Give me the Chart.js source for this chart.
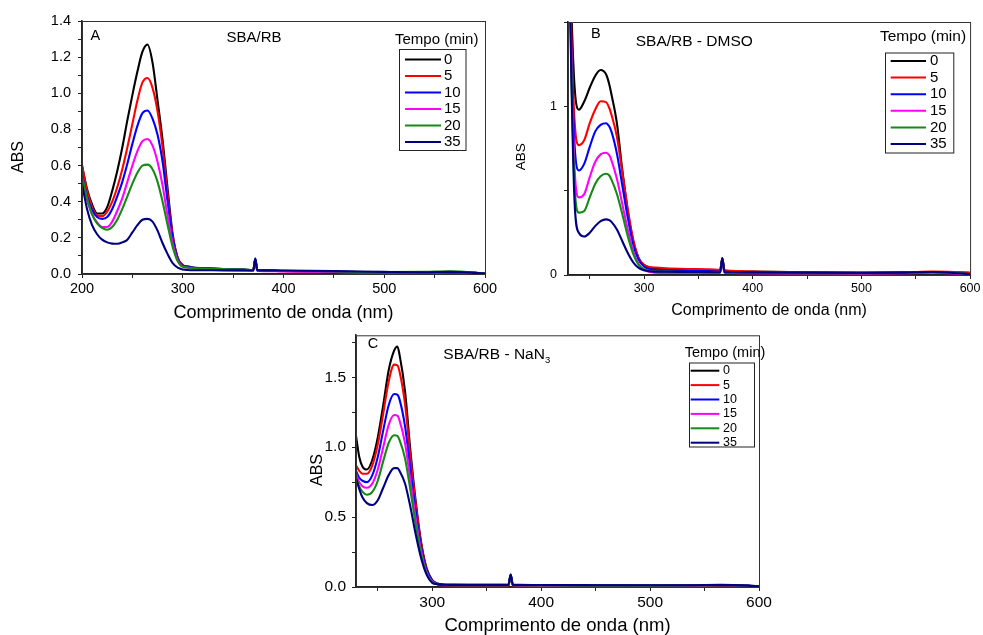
<!DOCTYPE html>
<html>
<head>
<meta charset="utf-8">
<script src="https://cdn.jsdelivr.net/npm/chart.js@4.4.1/dist/chart.umd.min.js"></script>
<style>
  body { margin: 0; background: #fff; }
  canvas { position: absolute; }
</style>
</head>
<body>
<canvas id="chartA" width="500" height="330" style="left:0;top:0"></canvas>
<canvas id="chartB" width="493" height="330" style="left:490px;top:0"></canvas>
<canvas id="chartC" width="490" height="315" style="left:290px;top:320px"></canvas>
<script>
const FONT = '"Liberation Sans", Arial, sans-serif'

// tempo de irradiação (min) e cor de cada curva
let tempos = [0, 5, 10, 15, 20, 35]
let cores = ['#000000', '#ff0000', '#0000ff', '#ff00ff', '#168a16', '#000080']

// A - SBA/RB
let nmA = [200, 205, 210, 215, 220, 225, 230, 235, 240, 245, 250, 255, 260, 265, 270, 275, 280, 285, 290, 295, 300,
	305, 310, 320, 340, 360, 370, 372, 374, 380, 400, 450, 500, 540, 565, 590, 600]
let absA = [
	[0.60, 0.47, 0.385, 0.335, 0.335, 0.37, 0.46, 0.57, 0.70, 0.85, 0.99, 1.12, 1.23, 1.27, 1.17, 0.96, 0.74, 0.47, 0.22, 0.09, 0.05,
		0.042, 0.036, 0.033, 0.028, 0.024, 0.022, 0.08, 0.022, 0.02, 0.017, 0.012, 0.009, 0.008, 0.01, 0.006, 0.002],
	[0.60, 0.46, 0.37, 0.325, 0.32, 0.345, 0.40, 0.48, 0.58, 0.70, 0.83, 0.96, 1.06, 1.085, 1.03, 0.90, 0.70, 0.44, 0.21, 0.09, 0.048,
		0.04, 0.035, 0.032, 0.027, 0.023, 0.021, 0.08, 0.021, 0.019, 0.016, 0.011, 0.008, 0.008, 0.01, 0.005, 0.002],
	[0.55, 0.43, 0.355, 0.315, 0.305, 0.315, 0.36, 0.43, 0.51, 0.61, 0.72, 0.82, 0.89, 0.905, 0.86, 0.77, 0.62, 0.40, 0.20, 0.085, 0.045,
		0.04, 0.035, 0.032, 0.028, 0.024, 0.022, 0.085, 0.022, 0.02, 0.018, 0.014, 0.01, 0.009, 0.011, 0.006, 0.002],
	[0.52, 0.41, 0.33, 0.285, 0.26, 0.26, 0.29, 0.35, 0.42, 0.51, 0.60, 0.68, 0.735, 0.747, 0.71, 0.62, 0.49, 0.32, 0.17, 0.075, 0.04,
		0.035, 0.03, 0.027, 0.023, 0.02, 0.018, 0.075, 0.018, 0.016, 0.014, 0.011, 0.008, 0.008, 0.01, 0.005, 0.002],
	[0.54, 0.42, 0.33, 0.28, 0.255, 0.245, 0.26, 0.30, 0.36, 0.43, 0.50, 0.56, 0.60, 0.605, 0.58, 0.51, 0.40, 0.27, 0.15, 0.07, 0.04,
		0.036, 0.032, 0.03, 0.027, 0.024, 0.022, 0.08, 0.022, 0.02, 0.017, 0.014, 0.011, 0.012, 0.015, 0.008, 0.002],
	[0.50, 0.36, 0.27, 0.22, 0.19, 0.175, 0.168, 0.167, 0.175, 0.19, 0.23, 0.27, 0.30, 0.305, 0.29, 0.24, 0.17, 0.11, 0.06, 0.035, 0.025,
		0.022, 0.021, 0.021, 0.02, 0.02, 0.019, 0.085, 0.02, 0.02, 0.019, 0.016, 0.012, 0.01, 0.012, 0.006, 0.002],
]

// B e C começam em 230 nm
let nmBC = [230, 233, 236, 240, 245, 250, 255, 260, 265, 268, 270, 275, 280, 285, 290, 295, 300,
	305, 310, 320, 340, 360, 370, 372, 374, 380, 400, 450, 500, 540, 565, 590, 600]

// B - SBA/RB - DMSO
let absB = [
	[2.4, 1.6, 1.12, 0.98, 1.03, 1.11, 1.18, 1.215, 1.19, 1.13, 1.07, 0.9, 0.62, 0.38, 0.2, 0.1, 0.06,
		0.045, 0.04, 0.035, 0.03, 0.027, 0.025, 0.1, 0.025, 0.022, 0.02, 0.016, 0.014, 0.015, 0.018, 0.012, 0.008],
	[2.4, 1.45, 0.92, 0.77, 0.8, 0.9, 0.98, 1.03, 1.025, 0.99, 0.95, 0.82, 0.61, 0.39, 0.21, 0.1, 0.06,
		0.048, 0.044, 0.04, 0.036, 0.034, 0.03, 0.095, 0.03, 0.025, 0.02, 0.017, 0.015, 0.016, 0.02, 0.017, 0.015],
	[2.4, 1.35, 0.78, 0.62, 0.66, 0.76, 0.85, 0.89, 0.9, 0.88, 0.85, 0.72, 0.53, 0.34, 0.18, 0.09, 0.05,
		0.035, 0.03, 0.027, 0.024, 0.022, 0.02, 0.09, 0.02, 0.018, 0.016, 0.014, 0.012, 0.014, 0.017, 0.01, 0.005],
	[2.4, 1.3, 0.64, 0.46, 0.48, 0.58, 0.67, 0.715, 0.725, 0.71, 0.68, 0.57, 0.42, 0.27, 0.14, 0.065, 0.03,
		0.018, 0.014, 0.012, 0.012, 0.012, 0.012, 0.08, 0.012, 0.012, 0.01, 0.009, 0.008, 0.01, 0.014, 0.008, 0.004],
	[2.4, 1.25, 0.54, 0.37, 0.38, 0.46, 0.54, 0.585, 0.6, 0.59, 0.565, 0.48, 0.36, 0.23, 0.125, 0.06, 0.035,
		0.025, 0.022, 0.02, 0.018, 0.017, 0.016, 0.085, 0.016, 0.015, 0.013, 0.011, 0.01, 0.012, 0.016, 0.01, 0.005],
	[2.4, 1.2, 0.44, 0.25, 0.228, 0.25, 0.29, 0.32, 0.33, 0.325, 0.315, 0.27, 0.2, 0.13, 0.075, 0.042, 0.028,
		0.022, 0.02, 0.019, 0.018, 0.017, 0.016, 0.1, 0.016, 0.016, 0.015, 0.013, 0.012, 0.014, 0.018, 0.01, 0.005],
]

// C - SBA/RB - NaN3
let absC = [
	[1.08, 0.93, 0.86, 0.84, 0.91, 1.07, 1.3, 1.55, 1.69, 1.72, 1.66, 1.4, 0.97, 0.6, 0.31, 0.13, 0.05,
		0.025, 0.018, 0.015, 0.014, 0.014, 0.014, 0.085, 0.014, 0.013, 0.012, 0.01, 0.009, 0.01, 0.012, 0.008, 0.004],
	[0.87, 0.83, 0.81, 0.81, 0.87, 1.02, 1.24, 1.47, 1.59, 1.585, 1.54, 1.31, 0.93, 0.58, 0.3, 0.12, 0.045,
		0.02, 0.014, 0.013, 0.013, 0.013, 0.013, 0.08, 0.013, 0.012, 0.011, 0.01, 0.009, 0.01, 0.012, 0.008, 0.004],
	[0.83, 0.78, 0.76, 0.75, 0.8, 0.93, 1.12, 1.3, 1.38, 1.375, 1.34, 1.15, 0.84, 0.53, 0.28, 0.115, 0.045,
		0.022, 0.016, 0.015, 0.015, 0.015, 0.015, 0.085, 0.015, 0.014, 0.013, 0.012, 0.011, 0.012, 0.014, 0.01, 0.005],
	[0.81, 0.75, 0.72, 0.71, 0.74, 0.84, 1.0, 1.16, 1.23, 1.225, 1.19, 1.03, 0.76, 0.48, 0.25, 0.1, 0.04,
		0.018, 0.013, 0.012, 0.012, 0.012, 0.012, 0.075, 0.012, 0.011, 0.01, 0.009, 0.009, 0.01, 0.012, 0.008, 0.004],
	[0.79, 0.72, 0.68, 0.66, 0.68, 0.76, 0.9, 1.03, 1.085, 1.08, 1.05, 0.92, 0.69, 0.44, 0.23, 0.095, 0.035,
		0.018, 0.014, 0.013, 0.013, 0.013, 0.013, 0.08, 0.013, 0.012, 0.011, 0.01, 0.01, 0.011, 0.013, 0.009, 0.004],
	[0.78, 0.7, 0.64, 0.6, 0.586, 0.62, 0.71, 0.8, 0.85, 0.85, 0.83, 0.74, 0.57, 0.37, 0.2, 0.085, 0.03,
		0.02, 0.016, 0.015, 0.015, 0.015, 0.015, 0.09, 0.015, 0.015, 0.014, 0.013, 0.012, 0.013, 0.015, 0.01, 0.005],
]

// rótulos dos eixos
let rotulosX = [200, 300, 400, 500, 600]
let rotulosYA = [0, 0.2, 0.4, 0.6, 0.8, 1.0, 1.2, 1.4]
let rotulosYB = [0, 1]
let rotulosYC = [0, 0.5, 1.0, 1.5]

function temRotulo(lista, v) {
	return lista.some((r) => Math.abs(r - v) < 1e-6)
}

function montaSeries(nm, linhas) {
	return tempos.map((t, i) => ({
		label: String(t),
		data: nm.map((x, j) => ({ x: x, y: linhas[i][j] })),
		borderColor: cores[i],
		borderWidth: 2.1,
		pointRadius: 0,
		cubicInterpolationMode: 'monotone',
		order: tempos.length - i,
	}))
}

// moldura em volta da área do gráfico
const moldura = {
	id: 'moldura',
	afterDraw(chart) {
		let { ctx, chartArea: a } = chart
		ctx.save()
		ctx.strokeStyle = '#333'
		ctx.lineWidth = 1
		ctx.strokeRect(a.left + 0.5, a.top + 0.5, a.right - a.left, a.bottom - a.top)
		ctx.restore()
	},
}

// textos soltos: letra do painel, amostra, título do eixo y
const textos = {
	id: 'textos',
	afterDraw(chart, args, opts) {
		let ctx = chart.ctx
		ctx.save()
		ctx.fillStyle = '#000'
		ctx.textBaseline = 'middle'
		for (let it of opts.items || []) {
			ctx.font = it.size + 'px ' + FONT
			if (it.rotate) {
				ctx.save()
				ctx.translate(it.x, it.y)
				ctx.rotate(-Math.PI / 2)
				ctx.textAlign = 'center'
				ctx.fillText(it.text, 0, 0)
				ctx.restore()
				continue
			}
			ctx.textAlign = 'left'
			ctx.fillText(it.text, it.x, it.y)
			if (it.sub) {
				let w = ctx.measureText(it.text).width
				ctx.font = it.subSize + 'px ' + FONT
				ctx.fillText(it.sub, it.x + w, it.y + it.subDy)
			}
		}
		ctx.restore()
	},
}

// legenda "Tempo (min)" com caixa
const legendaTempo = {
	id: 'legendaTempo',
	afterDraw(chart, args, o) {
		let ctx = chart.ctx
		ctx.save()
		ctx.fillStyle = '#000'
		ctx.textBaseline = 'middle'
		ctx.textAlign = 'center'
		ctx.font = o.titleSize + 'px ' + FONT
		ctx.fillText('Tempo (min)', o.titleX, o.titleY)
		ctx.strokeStyle = '#222'
		ctx.lineWidth = 1
		ctx.strokeRect(o.box[0] + 0.5, o.box[1] + 0.5, o.box[2], o.box[3])
		ctx.textAlign = 'left'
		ctx.font = o.size + 'px ' + FONT
		chart.data.datasets.forEach((ds, i) => {
			let y = o.rowY + i * o.rowH
			ctx.strokeStyle = ds.borderColor
			ctx.lineWidth = 2
			ctx.beginPath()
			ctx.moveTo(o.lineX0, y)
			ctx.lineTo(o.lineX1, y)
			ctx.stroke()
			ctx.fillText(ds.label, o.textX, y)
		})
		ctx.restore()
	},
}

function eixoX(min, p) {
	return {
		type: 'linear',
		min: min,
		max: 600,
		ticks: {
			stepSize: 50,
			includeBounds: false,
			autoSkip: false,
			maxRotation: 0,
			padding: p.tickPad,
			color: '#000',
			font: { family: FONT, size: p.tickSize },
			callback: (v) => (temRotulo(rotulosX, v) ? String(v) : ''),
		},
		grid: { drawOnChartArea: false, tickLength: 4, color: '#222' },
		border: { color: '#222', width: 1.6 },
		title: {
			display: true,
			text: 'Comprimento de onda (nm)',
			color: '#000',
			font: { family: FONT, size: p.titleSize, lineHeight: 1 },
			padding: { top: 0, bottom: p.titlePad },
		},
		afterFit: (s) => {
			s.height = p.height
		},
	}
}

function eixoY(max, step, rotulos, fmt, p) {
	return {
		type: 'linear',
		min: 0,
		max: max,
		ticks: {
			stepSize: step,
			includeBounds: false,
			autoSkip: false,
			padding: p.tickPad,
			color: '#000',
			font: { family: FONT, size: p.tickSize },
			callback: (v) => (temRotulo(rotulos, v) ? fmt(v) : ''),
		},
		grid: { drawOnChartArea: false, tickLength: 4, color: '#222' },
		border: { color: '#222', width: 1.6 },
		afterFit: (s) => {
			s.width = p.width
		},
	}
}

function painel(id, nm, linhas, cfg) {
	return new Chart(document.getElementById(id).getContext('2d'), {
		type: 'line',
		data: { datasets: montaSeries(nm, linhas) },
		options: {
			responsive: false,
			animation: false,
			events: [],
			layout: { padding: cfg.padding },
			scales: { x: cfg.x, y: cfg.y },
			plugins: {
				legend: { display: false },
				tooltip: { enabled: false },
				textos: { items: cfg.textos },
				legendaTempo: cfg.legenda,
			},
		},
		plugins: [moldura, textos, legendaTempo],
	})
}

let graficoA = painel('chartA', nmA, absA, {
	padding: { left: 0, top: 21, right: 15, bottom: 0 },
	x: eixoX(200, { tickPad: 2, tickSize: 14.5, titleSize: 18, titlePad: 8, height: 56 }),
	y: eixoY(1.4, 0.1, rotulosYA, (v) => v.toFixed(1), { tickPad: 7, tickSize: 14.5, width: 82 }),
	textos: [
		{ text: 'A', x: 90.5, y: 35.5, size: 14.5 },
		{ text: 'SBA/RB', x: 226.5, y: 37.5, size: 15 },
		{ text: 'ABS', x: 18.5, y: 157, size: 16, rotate: true },
	],
	legenda: { titleX: 436.7, titleY: 40, titleSize: 15, box: [399, 49, 66.5, 101], lineX0: 405, lineX1: 441, textX: 444, rowY: 59.5, rowH: 16.5, size: 15 },
})

let graficoB = painel('chartB', nmBC, absB, {
	padding: { left: 0, top: 22, right: 11, bottom: 0 },
	x: eixoX(230, { tickPad: 2.5, tickSize: 12.5, titleSize: 16, titlePad: 11, height: 55 }),
	y: eixoY(1.5, 0.5, rotulosYB, (v) => String(Math.round(v)), { tickPad: 7, tickSize: 12.5, width: 78 }),
	textos: [
		{ text: 'B', x: 101, y: 33.5, size: 14.5 },
		{ text: 'SBA/RB - DMSO', x: 145.7, y: 42.2, size: 15.5 },
		{ text: 'ABS', x: 31.7, y: 156.7, size: 13.5, rotate: true },
	],
	legenda: { titleX: 433, titleY: 36.7, titleSize: 15.5, box: [395, 52.5, 68.3, 100], lineX0: 400.7, lineX1: 436, textX: 440, rowY: 61, rowH: 16.6, size: 15 },
})

let graficoC = painel('chartC', nmBC, absC, {
	padding: { left: 0, top: 14, right: 21, bottom: 0 },
	x: eixoX(230, { tickPad: 2.5, tickSize: 15.5, titleSize: 18.5, titlePad: 0, height: 48 }),
	y: eixoY(1.8, 0.25, rotulosYC, (v) => v.toFixed(1), { tickPad: 6, tickSize: 15.5, width: 66 }),
	textos: [
		{ text: 'C', x: 77.7, y: 24.3, size: 14.5 },
		{ text: 'SBA/RB - NaN', x: 153.3, y: 35, size: 15.5, sub: '3', subSize: 9.5, subDy: 5 },
		{ text: 'ABS', x: 28, y: 150, size: 16, rotate: true },
	],
	legenda: { titleX: 435, titleY: 33.3, titleSize: 14.5, box: [399, 42.5, 65, 84], lineX0: 400.7, lineX1: 429.3, textX: 433, rowY: 50.7, rowH: 14.4, size: 12.5 },
})
</script>
</body>
</html>
